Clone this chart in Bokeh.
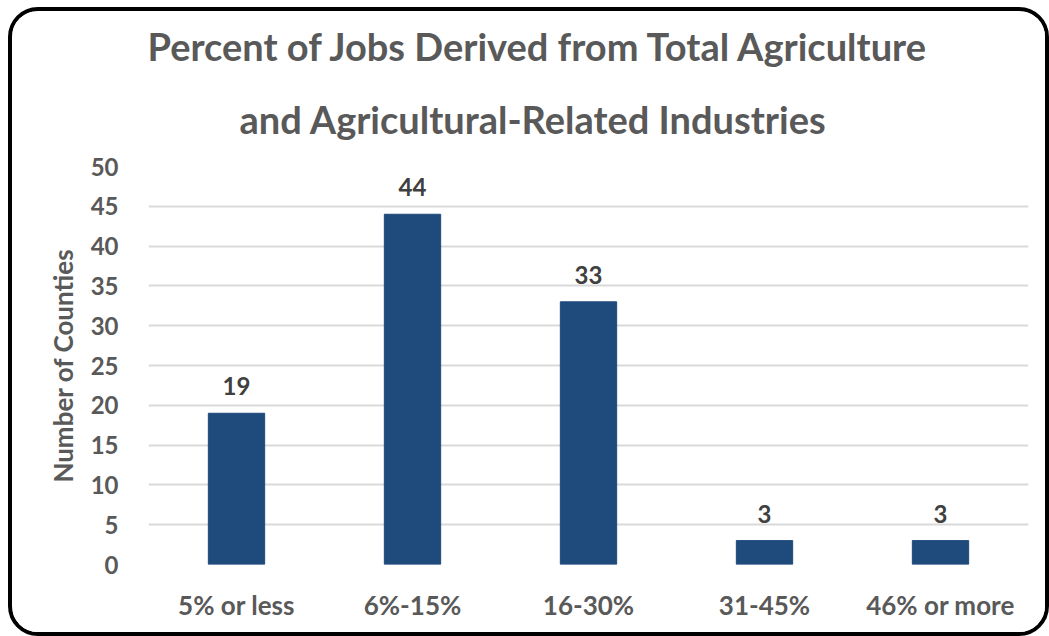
from bokeh.plotting import figure
from bokeh.models import Range1d, FixedTicker, Title, ColumnDataSource
from bokeh.core.properties import value
from bokeh.embed import file_html
from bokeh.resources import INLINE

categories = ["5% or less", "6%-15%", "16-30%", "31-45%", "46% or more"]
counts = [19, 44, 33, 3, 3]
y_ticks = [0, 5, 10, 15, 20, 25, 30, 35, 40, 45, 50]
title_lines = ["Percent of Jobs Derived from Total Agriculture",
               "and Agricultural-Related Industries"]
y_label = "Number of Counties"

FONT = "Lato"
BAR = "#1F4A7C"
GREY = "#595959"

src = ColumnDataSource(dict(cat=categories, n=counts, lbl=[str(c) for c in counts]))

p = figure(x_range=categories, y_range=Range1d(0, 50), width=1041, height=629,
           output_backend="svg", toolbar_location=None,
           min_border_left=136, min_border_right=25, min_border_top=155, min_border_bottom=76)
p.styles = {"border": "4px solid black", "border-radius": "30px", "overflow": "hidden",
            "margin": "7px 0 0 8px"}
p.outline_line_color = None
p.background_fill_color = "white"
p.border_fill_color = "white"

p.vbar(x="cat", top="n", width=0.32, source=src, fill_color=BAR, line_color=BAR)
p.text(x="cat", y="n", text="lbl", source=src, text_align="center", text_baseline="alphabetic",
       y_offset=-27, text_font=value(FONT), text_font_style="bold", text_font_size="24px",
       text_color="#404040")

p.xgrid.grid_line_color = None
p.ygrid.grid_line_color = "#D9D9D9"
p.ygrid.grid_line_width = 2
p.ygrid.ticker = FixedTicker(ticks=y_ticks)

p.yaxis.ticker = FixedTicker(ticks=y_ticks)
p.yaxis.axis_line_color = None
p.yaxis.major_tick_line_color = None
p.yaxis.minor_tick_line_color = None
p.yaxis.major_label_standoff = 24
p.yaxis.major_label_text_font = FONT
p.yaxis.major_label_text_font_style = "bold"
p.yaxis.major_label_text_font_size = "24px"
p.yaxis.major_label_text_color = GREY
p.yaxis.axis_label = y_label
p.yaxis.axis_label_text_font = FONT
p.yaxis.axis_label_text_font_style = "bold"
p.yaxis.axis_label_text_font_size = "26px"
p.yaxis.axis_label_text_color = GREY
p.yaxis.axis_label_standoff = 9

p.xaxis.axis_line_color = None
p.xaxis.major_tick_line_color = None
p.xaxis.minor_tick_line_color = None
p.xaxis.major_label_standoff = 18
p.xaxis.major_label_text_font = FONT
p.xaxis.major_label_text_font_style = "bold"
p.xaxis.major_label_text_font_size = "26px"
p.xaxis.major_label_text_color = GREY

for txt, off, so in zip(reversed(title_lines), [91, -1], [50, 0]):
    p.add_layout(Title(text=txt, align="left", offset=off, standoff=so,
                       vertical_align="bottom", text_font=FONT, text_font_style="bold",
                       text_font_size="38px", text_color=GREY), "above")

open("out.html", "w").write(file_html(p, INLINE))
